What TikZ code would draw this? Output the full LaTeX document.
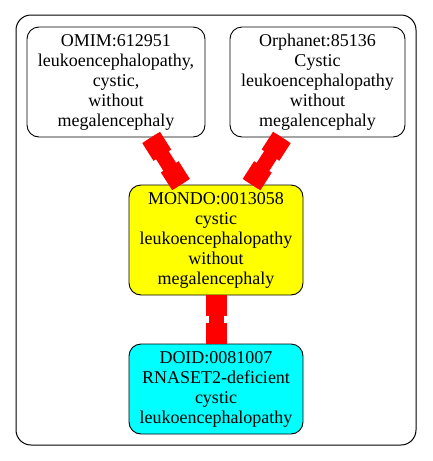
\documentclass[tikz,border=0pt]{standalone}
\usepackage{fontspec}
\setmainfont{Liberation Serif}
\usetikzlibrary{calc}
\definecolor{nodecyan}{RGB}{0,255,255}
\definecolor{nodeyellow}{RGB}{255,255,0}
\definecolor{edgered}{RGB}{255,0,0}
\begin{document}
\begin{tikzpicture}[x=1pt,y=-1pt,
  box/.style={draw=black, line width=0.9pt, rounded corners=12pt, inner sep=0pt,
    align=center, font=\fontsize{18}{20}\selectfont},
  neck/.style={draw=edgered, line width=15pt, line cap=butt},
  head/.style={draw=edgered, line width=21pt, line cap=butt}]
\useasboundingbox (0,0) rectangle (432,461);
\draw[line width=1pt, rounded corners=15pt] (16,15) rectangle (416,445);
\node[box, minimum width=178pt, minimum height=110pt] (omim) at (116,82)
  {OMIM:612951\\leukoencephalopathy,\\cystic,\\without\\megalencephaly};
\node[box, minimum width=175pt, minimum height=110pt] (orpha) at (317.5,82)
  {Orphanet:85136\\Cystic\\leukoencephalopathy\\without\\megalencephaly};
\node[box, fill=nodeyellow, minimum width=174pt, minimum height=110pt] (mondo) at (216,240)
  {MONDO:0013058\\cystic\\leukoencephalopathy\\without\\megalencephaly};
\node[box, fill=nodecyan, minimum width=174pt, minimum height=90pt] (doid) at (216,389)
  {DOID:0081007\\RNASET2-deficient\\cystic\\leukoencephalopathy};
\foreach \s/\t/\n in {omim/mondo/a, orpha/mondo/b, mondo/doid/c}{
  \path (\s) -- coordinate[pos=0] (\n s) coordinate[pos=1] (\n e) (\t);
  \draw[neck] (\n s) -- (\n e);
  \draw[head] (\n s) -- ($(\n s)!21pt!(\n e)$);
  \draw[head] (\n e) -- ($(\n e)!21pt!(\n s)$);
}
\end{tikzpicture}
\end{document}
